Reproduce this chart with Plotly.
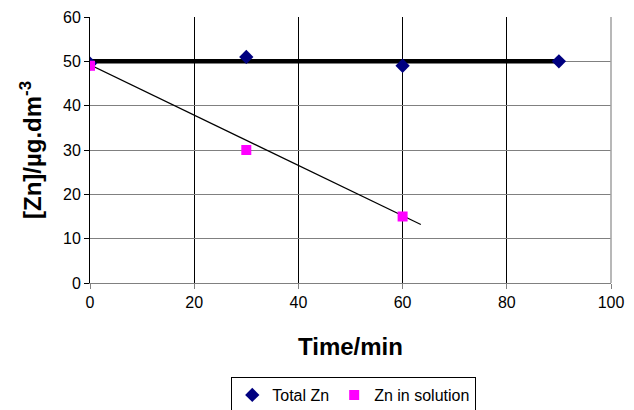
import plotly.graph_objects as go

# Data
time_total = [0, 30, 60, 90]
total_zn = [49.5, 51, 49, 50]
time_sol = [0, 30, 60]
zn_sol = [49, 30, 15]
trend_total_x = [0, 90]
trend_total_y = [50, 50]
trend_sol_x = [0, 63.5]
trend_sol_y = [49.2, 13.2]
x_ticks = [0, 20, 40, 60, 80, 100]
y_ticks = [0, 10, 20, 30, 40, 50, 60]

FONT = "Liberation Sans, Arial, sans-serif"

fig = go.Figure()
fig.add_trace(go.Scatter(x=trend_total_x, y=trend_total_y, mode="lines",
                         line=dict(color="black", width=4.5), showlegend=False, hoverinfo="skip"))
fig.add_trace(go.Scatter(x=trend_sol_x, y=trend_sol_y, mode="lines",
                         line=dict(color="black", width=1.2), showlegend=False, hoverinfo="skip"))
fig.add_trace(go.Scatter(x=time_total, y=total_zn, mode="markers", name="Total Zn",
                         marker=dict(symbol="diamond", color="#000080", size=11)))
fig.add_trace(go.Scatter(x=time_sol, y=zn_sol, mode="markers", name="Zn in solution",
                         marker=dict(symbol="square", color="#FF00FF", size=10)))

fig.update_layout(
    width=634, height=410,
    margin=dict(l=90, r=23, t=17, b=127, autoexpand=False),
    paper_bgcolor="white", plot_bgcolor="white",
    font=dict(family=FONT, size=16, color="black"),
    xaxis=dict(range=[0, 100], tickvals=x_ticks, showgrid=True, gridcolor="black", gridwidth=1,
               showline=True, linecolor="#808080", linewidth=1, ticks="outside", ticklen=5,
               tickcolor="#808080", zeroline=False, automargin=False,
               tickfont=dict(size=16, family=FONT),
               title=dict(text="<b>Time/min</b>", font=dict(size=24, family=FONT), standoff=27)),
    yaxis=dict(range=[0, 60], tickvals=y_ticks, showgrid=True, gridcolor="#808080", gridwidth=1,
               showline=True, linecolor="black", linewidth=1, ticks="outside", ticklen=5,
               tickcolor="black", zeroline=False, automargin=False,
               tickfont=dict(size=16, family=FONT),
               title=dict(text="<b>[Zn]/µg.dm<sup>-3</sup></b>", font=dict(size=24, family=FONT), standoff=14)),
    legend=dict(orientation="h", xref="container", yref="container",
                x=0.558, xanchor="center", y=0.0805, yanchor="top",
                bordercolor="black", borderwidth=1, font=dict(size=16, family=FONT),
                itemwidth=30, tracegroupgap=0),
    shapes=[dict(type="line", xref="paper", yref="paper", x0=1, x1=1, y0=0, y1=1,
                 line=dict(color="#A0A0A0", width=1.5))],
    showlegend=True,
)

fig.write_html("out.html")
